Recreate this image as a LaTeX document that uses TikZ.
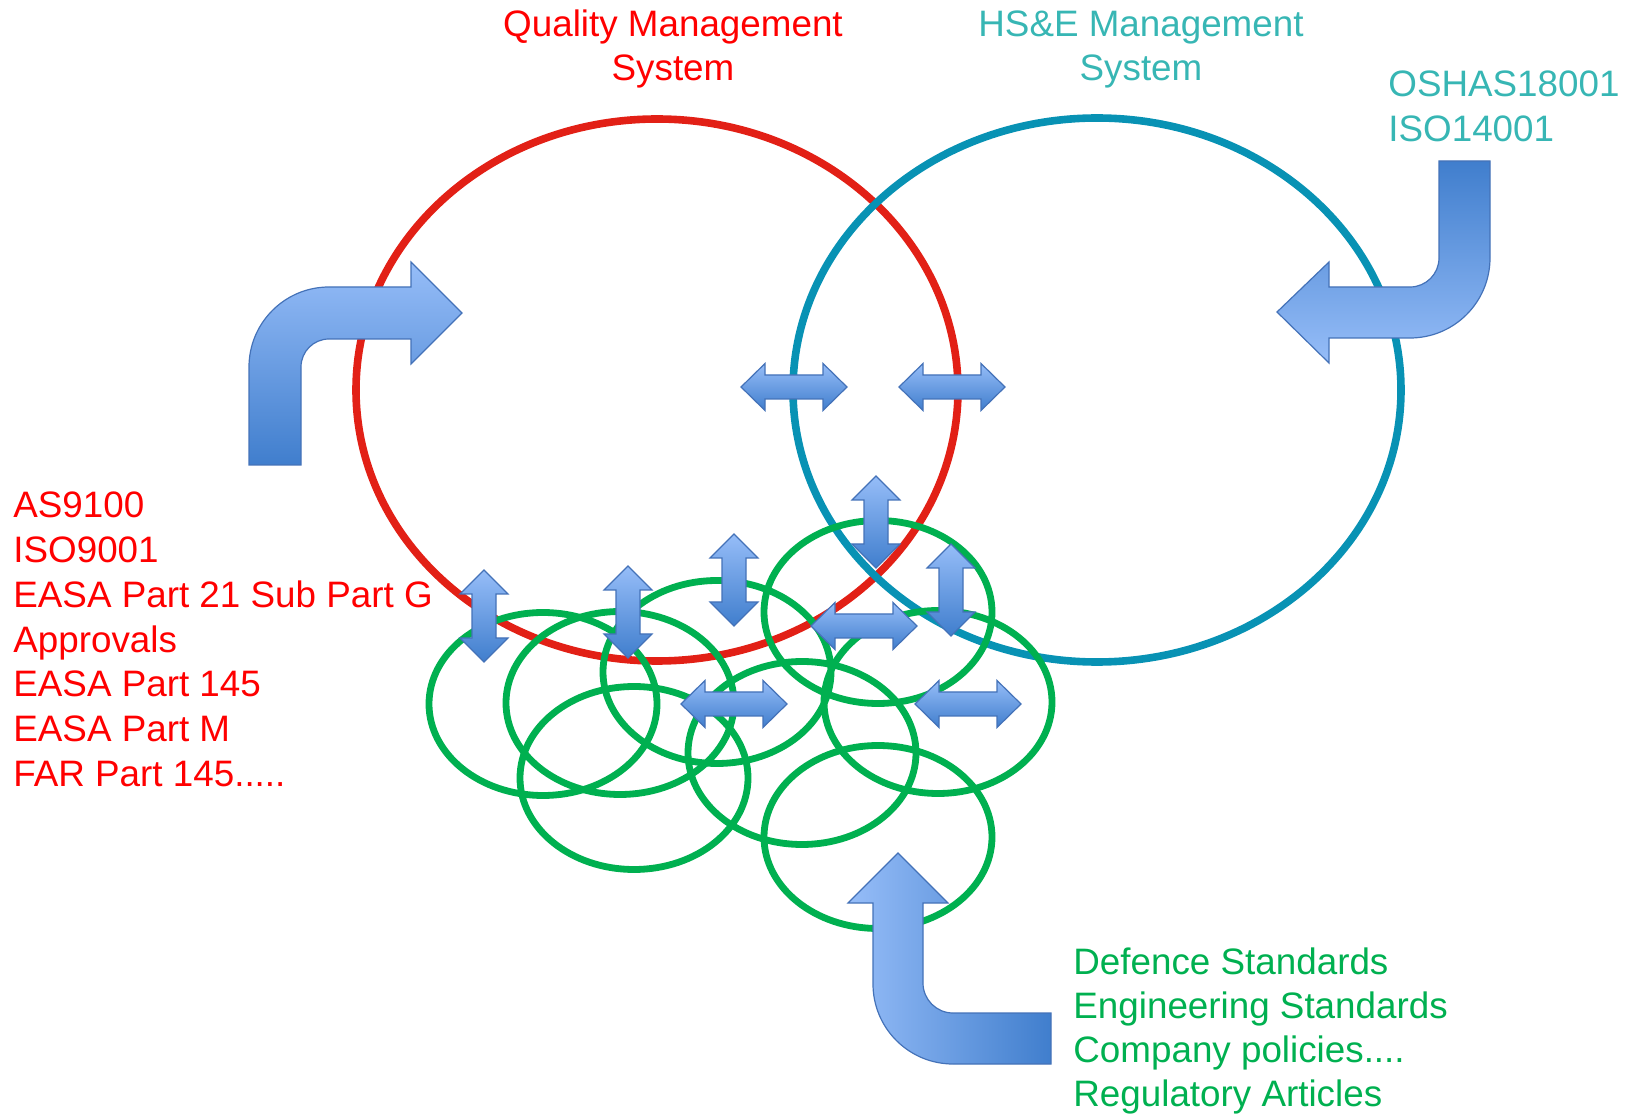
\documentclass[tikz,border=0pt]{standalone}
\usepackage{fontspec}
\setmainfont{Liberation Sans}
\usetikzlibrary{shapes.geometric}

\definecolor{qmsred}{RGB}{226,32,22}
\definecolor{hseblue}{RGB}{8,146,180}
\definecolor{stdgreen}{RGB}{0,176,80}
\definecolor{hsetext}{RGB}{55,182,180}
\definecolor{arrlight}{RGB}{150,189,248}
\definecolor{arrdark}{RGB}{64,126,205}
\definecolor{arredge}{RGB}{68,114,184}

\tikzset{
  lbl/.style={font=\fontsize{18.4}{22}\selectfont, inner sep=0pt},
  ring/.style={ellipse, draw, line width=3.8pt, inner sep=0pt},
  fatarrow/.style={draw=arredge, line width=0.6pt},
  hdbl/.pic={
    \shade[fatarrow, top color=arrlight, bottom color=arrdark]
      (-53,0) -- (-29,-23.5) -- (-29,-12) -- (29,-12) -- (29,-23.5) -- (53,0)
      -- (29,23.5) -- (29,12) -- (-29,12) -- (-29,23.5) -- cycle;
  },
  vdbl/.pic={
    \shade[fatarrow, top color=arrlight, bottom color=arrdark]
      (0,-46) -- (24,-22) -- (12,-22) -- (12,22) -- (24,22) -- (0,46)
      -- (-24,22) -- (-12,22) -- (-12,-22) -- (-24,-22) -- cycle;
  }
}

\begin{document}
\begin{tikzpicture}[x=0.5pt, y=-0.5pt]
  \useasboundingbox (0,0) rectangle (1630,1117);

  % Systems
  \node[ring, draw=qmsred, minimum width=301pt, minimum height=271pt] (qms) at (657,390) {};
  \node[ring, draw=hseblue, minimum width=304pt, minimum height=272pt] (hse) at (1097,390) {};

  % Standards
  \foreach \x/\y [count=\i] in {543/704, 620/703, 717/672, 634/778, 878/612, 802/753, 938/702, 878/837}{
    \node[ring, draw=stdgreen, line width=3.4pt, minimum width=114pt, minimum height=91.5pt] (std\i) at (\x,\y) {};
  }

  % Feeds into the systems
  \shade[fatarrow, top color=arrlight, bottom color=arrdark]
    (249,465) [rounded corners=40pt] -- (249,287) [sharp corners] -- (411,287) -- (411,262)
    -- (462,313) -- (411,364) -- (411,339) [rounded corners=14pt] -- (301,339) [sharp corners]
    -- (301,465) -- cycle;
  \shade[fatarrow, top color=arrdark, bottom color=arrlight]
    (1439,161) -- (1490,161) [rounded corners=40pt] -- (1490,338) [sharp corners] -- (1329,338)
    -- (1329,363) -- (1277,312) -- (1329,262) -- (1329,287) [rounded corners=14.5pt] -- (1439,287)
    [sharp corners] -- cycle;
  \shade[fatarrow, left color=arrlight, right color=arrdark]
    (898,853) -- (948,903) -- (923,903) [rounded corners=15pt] -- (923,1013) [sharp corners]
    -- (1051,1013) -- (1051,1064) [rounded corners=40pt] -- (873,1064) [sharp corners]
    -- (873,903) -- (848,903) -- cycle;

  % Links
  \foreach \x/\y [count=\i] in {794/387, 952/387, 864/626, 734/704, 968/704}{
    \pic (hl\i) at (\x,\y) {hdbl};
  }
  \foreach \x/\y [count=\i] in {876/522, 951/590, 734/580, 628/612, 484/616}{
    \pic (vl\i) at (\x,\y) {vdbl};
  }

  % Labels
  \node[lbl, text=red, anchor=base] (qmsa) at (673,37) {Quality Management};
  \node[lbl, text=red, anchor=base] (qmsb) at (673,81) {System};
  \node[lbl, text=hsetext, anchor=base] (hsea) at (1141,37) {HS\&E Management};
  \node[lbl, text=hsetext, anchor=base] (hseb) at (1141,81) {System};
  \node[lbl, text=hsetext, anchor=base west] (osh) at (1388,97) {OSHAS18001};
  \node[lbl, text=hsetext, anchor=base west] (iso) at (1388,142) {ISO14001};
  \foreach \t [count=\i] in {AS9100, ISO9001, EASA Part 21 Sub Part G, Approvals, EASA Part 145, EASA Part M, FAR Part 145{.}{.}{.}{.}{.}}{
    \node[lbl, text=red, anchor=base west] (aero\i) at (13,{518+44.7*(\i-1)}) {\t};
  }
  \foreach \t [count=\i] in {Defence Standards, Engineering Standards, Company policies{.}{.}{.}{.}, Regulatory Articles}{
    \node[lbl, text=stdgreen, anchor=base west] (misc\i) at (1073,{974+44.3*(\i-1)}) {\t};
  }
\end{tikzpicture}
\end{document}
